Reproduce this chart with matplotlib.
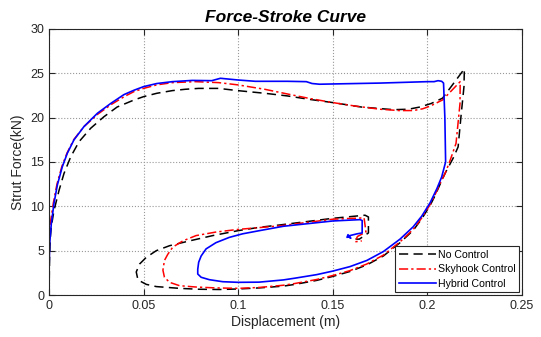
import numpy as np
import matplotlib
matplotlib.use("Agg")
import matplotlib.pyplot as plt

plt.rcParams['font.family'] = ['Liberation Sans', 'DejaVu Sans']

# No Control (black dashed)
nc_x = [0, 0.0003, 0.0007, 0.0012, 0.0026, 0.0053, 0.0079, 0.0115, 0.0159, 0.022,
        0.029, 0.036, 0.045, 0.05, 0.057, 0.0652, 0.072, 0.079, 0.0897, 0.0997,
        0.114, 0.126, 0.138, 0.15, 0.165, 0.182, 0.19, 0.196, 0.202, 0.208,
        0.2195, 0.2193, 0.2177, 0.2162, 0.2135, 0.2095, 0.2067, 0.204, 0.2014,
        0.197, 0.1925, 0.1855, 0.1767, 0.168, 0.159, 0.15, 0.1415, 0.13, 0.1238,
        0.111, 0.1, 0.09, 0.079, 0.069, 0.0567, 0.0514, 0.047, 0.0461, 0.0479,
        0.0514, 0.0567, 0.0637, 0.0742, 0.0865, 0.1, 0.111, 0.122, 0.15,
        0.167, 0.1688, 0.1688, 0.164, 0.162]
nc_y = [0, 4.3, 6.5, 7.7, 9.5, 11.8, 13.7, 15.6, 17.3, 18.8,
        20.1, 21.2, 22.0, 22.37, 22.75, 23.05, 23.2, 23.3, 23.3, 23.05,
        22.75, 22.45, 22.05, 21.7, 21.2, 20.9, 20.95, 21.2, 21.6, 22.2,
        25.5, 23.5, 20.1, 16.7, 15.4, 13.8, 12.5, 11.2, 10.1,
        8.6, 7.3, 5.9, 4.4, 3.4, 2.65, 2.1, 1.65, 1.2, 1.0,
        0.8, 0.68, 0.62, 0.65, 0.75, 0.95, 1.2, 1.7, 2.6, 3.5,
        4.25, 5.0, 5.56, 6.1, 6.7, 7.26, 7.63, 7.9, 8.65,
        9.0, 8.8, 7.0, 6.3, 6.3]

# Skyhook Control (red dash-dot)
sk_x = [0, 0, 0.0002, 0.0009, 0.0023, 0.0042, 0.0068, 0.0095, 0.013, 0.0185,
        0.0258, 0.033, 0.04, 0.045, 0.05, 0.057, 0.0652, 0.0774, 0.0897, 0.0997,
        0.114, 0.126, 0.138, 0.15, 0.162, 0.175, 0.185, 0.1925, 0.1975, 0.2014,
        0.208, 0.2173, 0.2172, 0.2151, 0.212, 0.2095, 0.2067, 0.204, 0.2014,
        0.197, 0.1925, 0.1855, 0.1767, 0.168, 0.159, 0.15, 0.1415, 0.13, 0.1238,
        0.111, 0.1, 0.0882, 0.0777, 0.069, 0.0637, 0.061, 0.0602, 0.061, 0.0628,
        0.0654, 0.0707, 0.0777, 0.0882, 0.1, 0.111, 0.122, 0.15,
        0.1665, 0.1675, 0.163, 0.1617, 0.1653]
sk_y = [0, 1.0, 6.2, 8.4, 10.4, 12.5, 14.5, 16.0, 17.5, 19.0,
        20.4, 21.5, 22.4, 22.95, 23.3, 23.7, 23.95, 24.06, 23.95, 23.7,
        23.2, 22.67, 22.15, 21.7, 21.3, 20.95, 20.8, 20.8, 21.0, 21.3,
        22.0, 24.06, 21.6, 17.1, 15.2, 13.8, 12.6, 11.3, 10.2,
        8.7, 7.4, 6.0, 4.5, 3.5, 2.75, 2.2, 1.75, 1.3, 1.1,
        0.85, 0.75, 0.8, 0.9, 1.05, 1.43, 2.0, 2.8, 3.9, 4.6,
        5.4, 6.1, 6.7, 7.1, 7.4, 7.6, 7.8, 8.55,
        8.7, 7.1, 6.6, 6.0, 6.1]

# Hybrid Control (blue solid)
hy_x = [0, 0, 0.00035, 0.0012, 0.0026, 0.0044, 0.007, 0.0097, 0.0132, 0.0185,
        0.0256, 0.0326, 0.0396, 0.045, 0.05, 0.057, 0.0652, 0.0757, 0.086, 0.0906,
        0.0997, 0.109, 0.126, 0.136, 0.139, 0.143, 0.15, 0.175, 0.2, 0.2035,
        0.2056, 0.2075, 0.2085, 0.2092, 0.2096, 0.2075, 0.205, 0.2014, 0.197,
        0.1925, 0.1855, 0.1767, 0.168, 0.159, 0.15, 0.1415, 0.13, 0.1238, 0.111,
        0.1, 0.0918, 0.0847, 0.0804, 0.0786, 0.0786, 0.0791, 0.0804, 0.083,
        0.0882, 0.0953, 0.1023, 0.111, 0.1238, 0.15,
        0.1644, 0.1655, 0.1655, 0.1628, 0.159, 0.1575, 0.158, 0.1595, 0.158]
hy_y = [0, 2.75, 5.8, 8.0, 10.3, 12.4, 14.45, 16.0, 17.5, 19.0,
        20.5, 21.6, 22.6, 23.1, 23.5, 23.85, 24.06, 24.2, 24.17, 24.44,
        24.25, 24.1, 24.1, 24.06, 23.85, 23.77, 23.8, 23.9, 24.06, 24.06,
        24.17, 24.1, 23.9, 20.0, 15.0, 13.3, 12.0, 10.4, 8.9,
        7.7, 6.3, 4.9, 3.9, 3.2, 2.7, 2.3, 1.9, 1.7, 1.45,
        1.43, 1.5, 1.73, 2.0, 2.37, 2.9, 3.7, 4.4, 5.2,
        5.9, 6.5, 6.9, 7.25, 7.75, 8.35,
        8.5, 8.4, 7.0, 6.9, 6.7, 6.5, 6.8, 6.4, 6.6]

fig = plt.figure(figsize=(5.41, 3.37), dpi=100)
ax = fig.add_axes([0.0906, 0.1246, 0.8744, 0.7894])

ax.plot(nc_x, nc_y, color='black', linestyle=(0, (6, 3.5)), lw=1.1, label='No Control')
ax.plot(sk_x, sk_y, color='red', linestyle=(0, (6, 2, 1.5, 2)), lw=1.1, label='Skyhook Control')
ax.plot(hy_x, hy_y, color='blue', linestyle='-', lw=1.2, label='Hybrid Control')

ax.set_xlim(0, 0.25)
ax.set_ylim(0, 30)
ax.set_xticks([0, 0.05, 0.1, 0.15, 0.2, 0.25])
ax.set_xticklabels(['0', '0.05', '0.1', '0.15', '0.2', '0.25'])
ax.set_yticks(range(0, 31, 5))
ax.tick_params(direction='in', top=True, right=True, labelsize=9, colors='#262626',
               length=4, width=0.8)
ax.grid(True, linestyle=':', color='#999999', lw=0.8)
for s in ax.spines.values():
    s.set_color('#262626')
    s.set_linewidth(0.8)

ax.set_title('Force-Stroke Curve', fontsize=12.5, fontweight='bold', style='italic', pad=5)
ax.set_xlabel('Displacement (m)', fontsize=10, color='#262626', labelpad=2)
ax.set_ylabel('Strut Force(kN)', fontsize=10, color='#262626', labelpad=4)

leg = ax.legend(loc='lower right', fontsize=7.6, fancybox=False, framealpha=1,
                edgecolor='#262626', borderpad=0.35, labelspacing=0.42,
                handlelength=3.5, handletextpad=0.2, borderaxespad=0.25)
leg.get_frame().set_linewidth(0.8)

fig.savefig('out.png', dpi=100)
